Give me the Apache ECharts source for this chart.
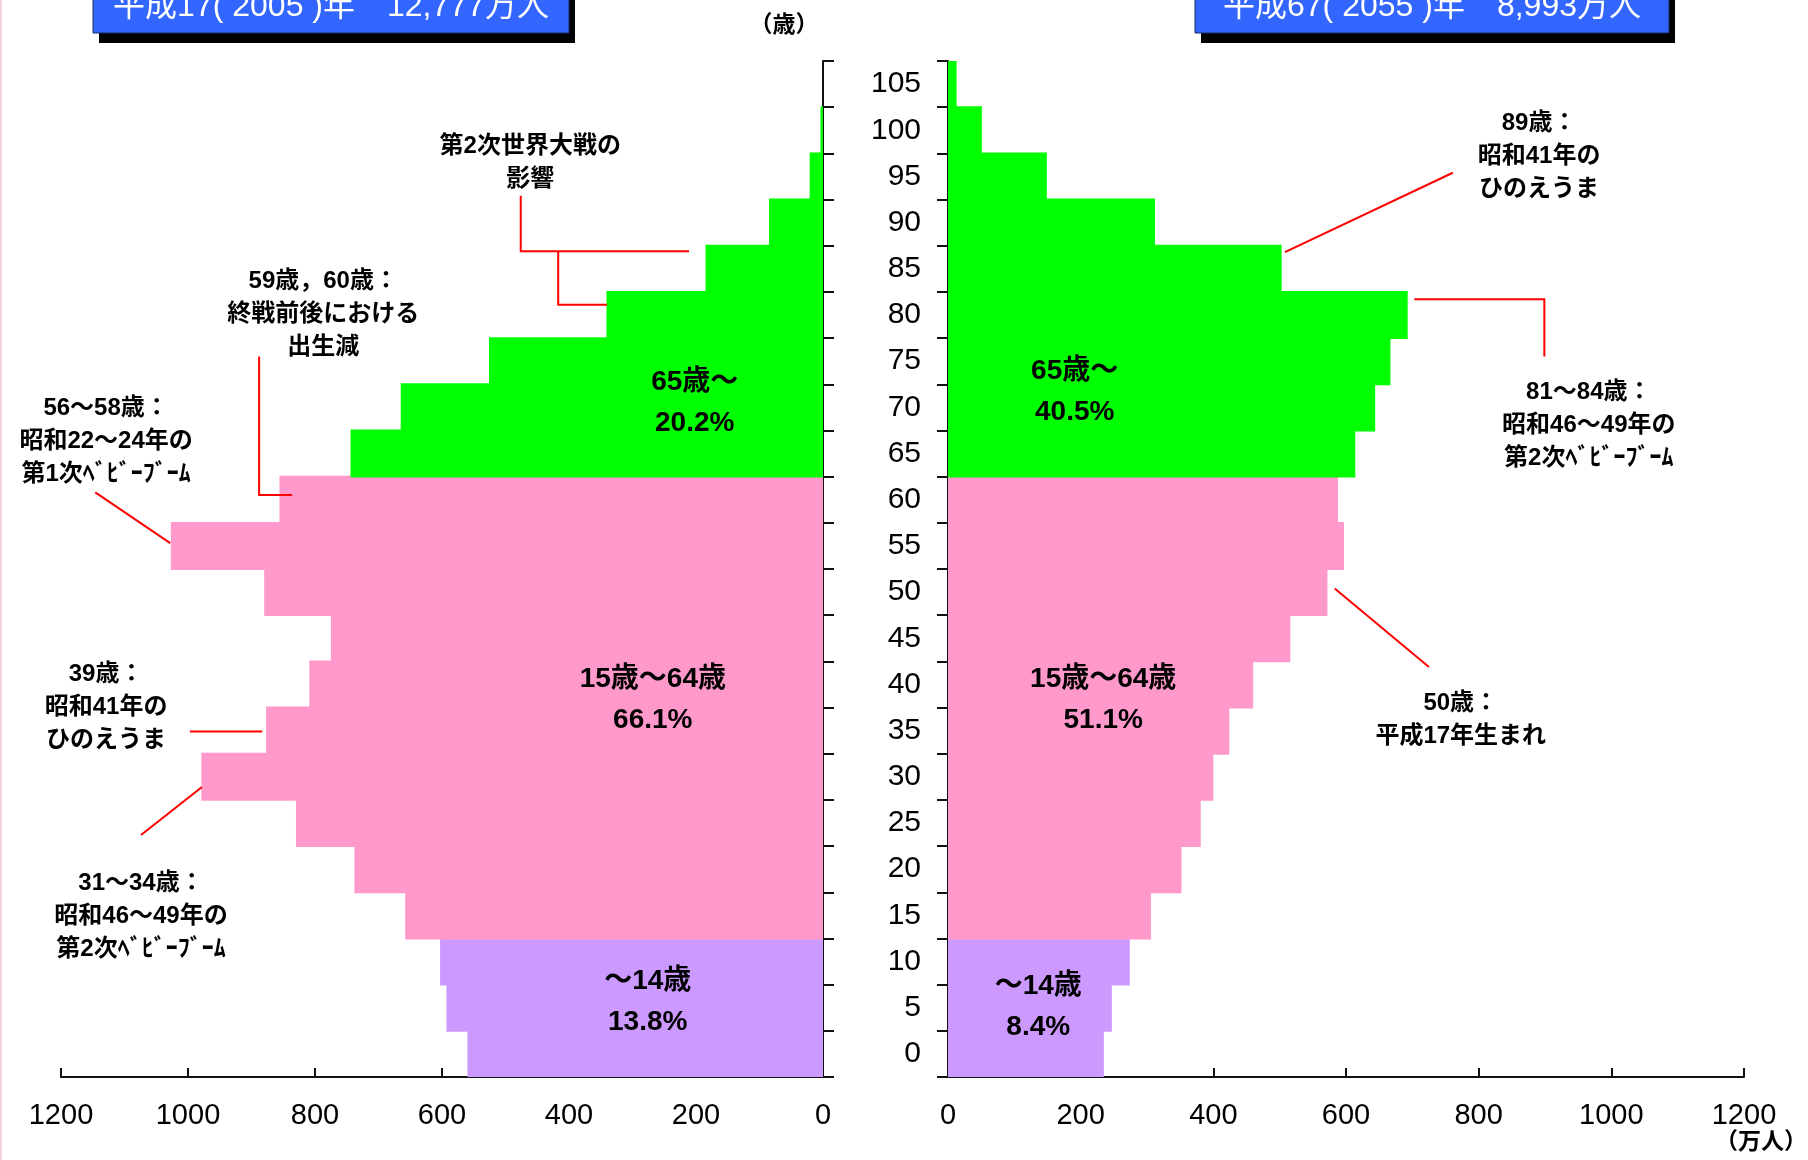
<!DOCTYPE html>
<html>
<head>
<meta charset="utf-8">
<script src="https://cdn.jsdelivr.net/npm/echarts@6/dist/echarts.min.js"></script>
<style>
html, body { margin: 0; padding: 0; background: #fff; }
#main { width: 1808px; height: 1160px; }
</style>
</head>
<body>
<div id="main"></div>
<script>
// 5-year age bands, bottom to top
var ageLabels = ['0', '5', '10', '15', '20', '25', '30', '35', '40', '45', '50',
    '55', '60', '65', '70', '75', '80', '85', '90', '95', '100', '105'];
// population (万人) per band
var pop2005 = [560, 593, 603, 658, 738, 830, 979, 877, 809, 775, 880,
    1027, 856, 744, 665, 526, 341, 185, 85, 21, 4, 0];
var pop2055 = [235, 247, 274, 306, 352, 381, 400, 424, 460, 516, 572,
    597, 588, 614, 644, 667, 693, 503, 312, 149, 51, 13];
var xTicks = [0, 200, 400, 600, 800, 1000, 1200];

var titles = ['平成17( 2005 )年　12,777万人', '平成67( 2055 )年　8,993万人'];
var groupNames = ['～14歳', '15歳～64歳', '65歳～'];
var share2005 = ['13.8%', '66.1%', '20.2%'];
var share2055 = ['8.4%', '51.1%', '40.5%'];
var groupColors = ['#cc99ff', '#ff99cc', '#00ff00'];

var FONT = "'Liberation Sans', Arial, 'Noto Sans CJK JP', sans-serif";

function groupOf(i) {
    if (i < 3) return 0;
    if (i < 13) return 1;
    return 2;
}

var chart = echarts.init(document.getElementById('main'));

function xAxisFor(grid, inverse) {
    return {
        gridIndex: grid,
        type: 'value',
        inverse: inverse,
        min: xTicks[0],
        max: xTicks[xTicks.length - 1],
        interval: 200,
        splitLine: { show: false },
        axisLine: { show: true, onZero: false, lineStyle: { color: '#111', width: 2 } },
        axisTick: { show: true, inside: true, length: 9, lineStyle: { color: '#111', width: 2 } },
        axisLabel: { fontSize: 29, fontFamily: FONT, color: '#000', margin: 24,
            formatter: function (v) { return String(v); } }
    };
}

function yAxisFor(grid, pos, labels) {
    return {
        gridIndex: grid,
        type: 'category',
        data: ageLabels,
        position: pos,
        boundaryGap: true,
        axisLine: { show: true, onZero: false, lineStyle: { color: '#111', width: 2 } },
        axisTick: { show: true, interval: 0, length: 11, lineStyle: { color: '#111', width: 2 } },
        axisLabel: { show: labels, interval: 0, fontSize: 30, fontFamily: FONT, color: '#000', margin: 27 },
        splitLine: { show: false }
    };
}

function barSeries(idx, values) {
    var data = values.map(function (v, i) {
        return { value: v, itemStyle: { color: groupColors[groupOf(i)] } };
    });
    return {
        type: 'bar',
        xAxisIndex: idx,
        yAxisIndex: idx,
        data: data,
        // slight overlap so no seams show between adjacent bands
        barWidth: '104%',
        barCategoryGap: '0%'
    };
}

chart.setOption({
    animation: false,
    backgroundColor: '#ffffff',
    grid: [
        { left: 61, right: 985, top: 61, bottom: 83 },
        { left: 948, right: 64, top: 61, bottom: 83 }
    ],
    xAxis: [xAxisFor(0, true), xAxisFor(1, false)],
    yAxis: [yAxisFor(0, 'right', false), yAxisFor(1, 'left', true)],
    series: [barSeries(0, pop2005), barSeries(1, pop2055)]
});

// data coords [value, age] -> pixels
function toPx(side, v, age) {
    var a = chart.convertToPixel({ gridIndex: side }, [v, 0]);
    var b = chart.convertToPixel({ gridIndex: side }, [v, 1]);
    return [a[0], a[1] + (age / 5 - 0.5) * (b[1] - a[1])];
}

// callouts, anchored in data space
var notes = [
    { side: 0, text: '第2次世界大戦の\n影響', at: [461, 99.0],
        lines: [[[476, 95.4], [476, 89.4], [211, 89.4]], [[417, 89.4], [417, 83.6], [340, 83.6]]] },
    { side: 0, text: '59歳，60歳：\n終戦前後における\n出生減', at: [787, 82.6],
        lines: [[[888, 78.0], [888, 63.0], [836, 63.0]]] },
    { side: 0, text: '56～58歳：\n昭和22～24年の\n第1次ﾍﾞﾋﾞｰﾌﾞｰﾑ', at: [1129, 68.8],
        lines: [[[1146, 63.3], [1028, 57.8]]] },
    { side: 0, text: '39歳：\n昭和41年の\nひのえうま', at: [1129, 40.0],
        lines: [[[997, 37.4], [883, 37.4]]] },
    { side: 0, text: '31～34歳：\n昭和46～49年の\n第2次ﾍﾞﾋﾞｰﾌﾞｰﾑ', at: [1074, 17.4],
        lines: [[[1074, 26.2], [978, 31.4]]] },
    { side: 1, text: '89歳：\n昭和41年の\nひのえうま', at: [891, 99.7],
        lines: [[[761, 97.9], [508, 89.3]]] },
    { side: 1, text: '81～84歳：\n昭和46～49年の\n第2次ﾍﾞﾋﾞｰﾌﾞｰﾑ', at: [966, 70.5],
        lines: [[[703, 84.2], [899, 84.2], [899, 78.0]]] },
    { side: 1, text: '50歳：\n平成17年生まれ', at: [773, 38.7],
        lines: [[[583, 52.9], [725, 44.4]]] }
];

var groupPos = [
    [[276, 8.1], [268, 40.8], [202, 73.0]],
    [[136, 7.6], [234, 40.8], [191, 74.2]]
];

var graphics = [];

// thin border at the left edge
graphics.push({ type: 'line', shape: { x1: 1, y1: 0, x2: 1, y2: 1160 },
    style: { stroke: '#f6cfdc', lineWidth: 2 } });

notes.forEach(function (n) {
    var p = toPx(n.side, n.at[0], n.at[1]);
    graphics.push({
        type: 'text', x: p[0], y: p[1], z: 10,
        style: { text: n.text, fill: '#000', font: 'bold 24px ' + FONT,
            align: 'center', verticalAlign: 'middle', lineHeight: 33 }
    });
    n.lines.forEach(function (pts) {
        graphics.push({
            type: 'polyline', z: 10,
            shape: { points: pts.map(function (q) { return toPx(n.side, q[0], q[1]); }) },
            style: { stroke: '#ff0000', lineWidth: 2, fill: null }
        });
    });
});

[share2005, share2055].forEach(function (shares, side) {
    shares.forEach(function (s, g) {
        var p = toPx(side, groupPos[side][g][0], groupPos[side][g][1]);
        graphics.push({
            type: 'text', x: p[0], y: p[1], z: 10,
            style: { text: groupNames[g] + '\n' + s, fill: '#000', font: 'bold 28px ' + FONT,
                align: 'center', verticalAlign: 'middle', lineHeight: 41 }
        });
    });
});

// title boxes
var boxes = [[93, 476], [1195, 474]];
boxes.forEach(function (b, i) {
    graphics.push({ type: 'rect', shape: { x: b[0] + 6, y: -10, width: b[1], height: 53 },
        style: { fill: '#000' }, z: 20 });
    graphics.push({ type: 'rect', shape: { x: b[0], y: -20, width: b[1], height: 53 },
        style: { fill: '#3366ff', stroke: '#1a2a66', lineWidth: 1 }, z: 21 });
    graphics.push({ type: 'text', x: b[0] + b[1] / 2, y: 7, z: 22,
        style: { text: titles[i], fill: '#fff', font: '32px ' + FONT,
            align: 'center', verticalAlign: 'middle' } });
});

graphics.push({ type: 'text', x: 784, y: 26, z: 10,
    style: { text: '（歳）', fill: '#000', font: 'bold 23px ' + FONT, align: 'center', verticalAlign: 'middle' } });
graphics.push({ type: 'text', x: 1761, y: 1143, z: 10,
    style: { text: '（万人）', fill: '#000', font: 'bold 23px ' + FONT, align: 'center', verticalAlign: 'middle' } });

chart.setOption({ graphic: graphics });
</script>
</body>
</html>
